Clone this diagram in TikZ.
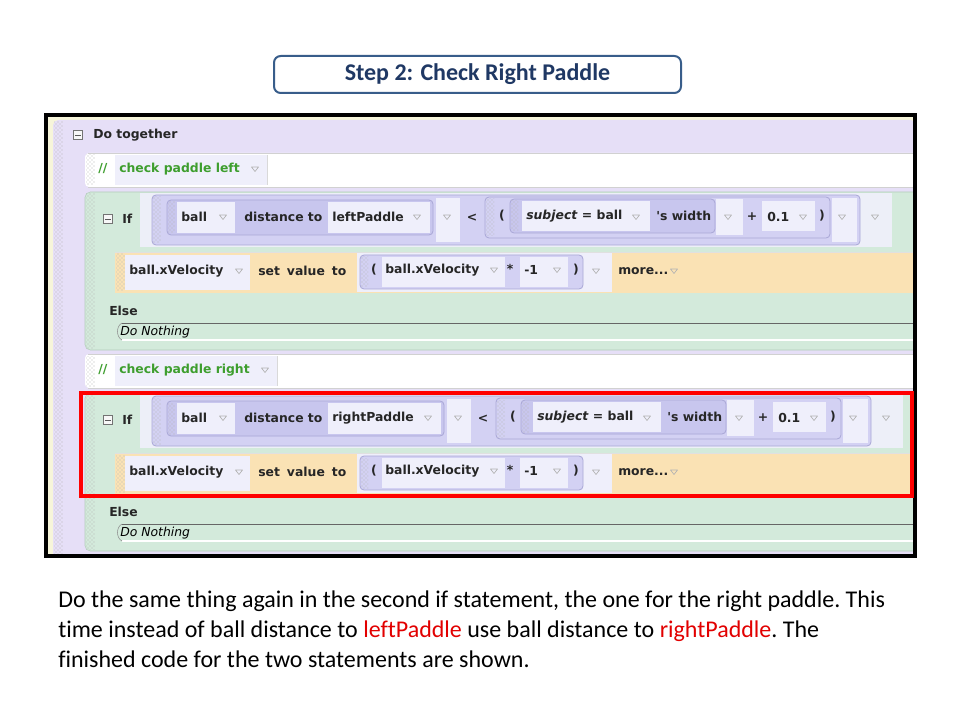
\documentclass[tikz,border=0pt]{standalone}
\usepackage{fontspec}
\setmainfont{Carlito}[Ligatures=NoCommon]
\newfontfamily\uifont{DejaVu Sans}
\usetikzlibrary{patterns}

\definecolor{titleblue}{HTML}{1F3864}
\definecolor{titleline}{HTML}{385D8A}
\definecolor{frameyel}{HTML}{F7F5DA}
\definecolor{dotlav}{HTML}{E6DFF7}
\definecolor{ifgreen}{HTML}{D3EADB}
\definecolor{ifline}{HTML}{B3CDBB}
\definecolor{condbg}{HTML}{EDEFF8}
\definecolor{exprlav}{HTML}{D3D1F3}
\definecolor{distlav}{HTML}{C8C6EE}
\definecolor{exprline}{HTML}{A9A7D6}
\definecolor{fieldbg}{HTML}{EFEFFB}
\definecolor{setorange}{HTML}{FAE2B4}
\definecolor{cmtgreen}{HTML}{3E9E2E}
\definecolor{prosered}{HTML}{E20000}

\tikzset{
  ui/.style={font=\uifont\bfseries\fontsize{9.3}{10}\selectfont, text=black!85, inner sep=0pt, anchor=west},
  gripdots/.style={pattern=crosshatch dots, pattern color=black!28},
  field/.style={fill=fieldbg},
  lavbox/.style={fill=#1, draw=exprline, line width=0.6pt, rounded corners=3pt},
  fold/.style={draw=black!55, fill=black!3, line width=0.5pt, minimum size=7pt, inner sep=0pt,
    path picture={\draw[black!65, line width=0.6pt] ([xshift=1.4pt]path picture bounding box.west) -- ([xshift=-1.4pt]path picture bounding box.east);}},
  menu/.style={draw=black!30, line width=0.5pt, line join=round},
  prose/.style={font=\frenchspacing\fontsize{18}{21}\selectfont, anchor=base west, inner sep=0pt},
}

\begin{document}
\begin{tikzpicture}[x=0.75pt,y=-0.75pt]
  \useasboundingbox[fill=white] (0,0) rectangle (960,720);

  % title
  \draw[titleline, line width=1.5pt, rounded corners=5pt] (274,56) rectangle (681,93);
  \node[font=\bfseries\fontsize{18}{20}\selectfont, text=titleblue] (title) at (477.5,74.5) {Step 2: Check Right Paddle};

  % screenshot
  \fill[frameyel] (46,115) rectangle (915,556);
  \fill[dotlav, rounded corners=4pt] (53,120) rectangle (916,562);
  \path[gripdots] (54,122) rectangle (63,556);
  \node[fold] (fold0) at (78,135) {};
  \node[ui] (dotogether) at (93,135) {Do together};

  \foreach \dy/\side/\pad/\dx/\cw [count=\s] in {0/left/leftPaddle/0/267, 201/right/rightPaddle/11/277}{
    \begin{scope}[shift={(0,\dy)}]
      % comment line
      \fill[white, rounded corners=3pt] (85,153) rectangle (920,187);
      \draw[black!18] (88,153) -- (913,153) (88,187) -- (913,187);
      \path[gripdots] (86,155) rectangle (95,185);
      \fill[field] (115,155) rectangle (\cw,185);
      \draw[black!15] (\cw,155) -- (\cw,185);
      \node[ui, text=cmtgreen] (slash\s) at (98,169) {//};
      \node[ui, text=cmtgreen] (cmt\s) at (119,169) {check paddle \side};

      % if block
      \filldraw[fill=ifgreen, draw=ifline, rounded corners=4pt] (85,192) rectangle (925,350);
      \path[gripdots] (86,194) rectangle (95,348);
      \node[fold] (fold\s) at (108,219) {};
      \node[ui] (if\s) at (122,219) {If};

      % condition
      \fill[condbg] (140,193) rectangle ({892+\dx},247);
      \path[lavbox=exprlav] (152,195) rectangle ({860+\dx},245);
      \path[gripdots] (153,197) rectangle (161,243);
      \path[lavbox=distlav] (167,200) rectangle ({433+\dx},235);
      \path[gripdots] (168,202) rectangle (175,233);
      \fill[field] (177,202) rectangle (235,233);
      \node[ui] (ball\s) at (181,217) {ball};
      \node[ui] (dist\s) at (244,217) {distance to};
      \fill[field] (328,202) rectangle ({430+\dx},233);
      \node[ui] (paddle\s) at (332,217) {\pad};
      \fill[field] ({436+\dx},198) rectangle ({460+\dx},242);

      \begin{scope}[shift={(\dx,0)}]
        \node[ui, anchor=center] (less\s) at (472,218) {<};
        \path[lavbox=exprlav] (485,197) rectangle (830,238);
        \path[gripdots] (486,199) rectangle (494,236);
        \node[ui, anchor=center] (lpar\s) at (502,216) {(};
        \path[lavbox=distlav] (510,199) rectangle (715,233);
        \path[gripdots] (511,201) rectangle (518,231);
        \fill[field] (522,201) rectangle (650,231);
        \node[ui] (subj\s) at (526,216) {\textit{subject} = ball};
        \node[ui] (width\s) at (656,216) {'s width};
        \fill[field] (716,199) rectangle (743,235);
        \node[ui, anchor=center] (plus\s) at (752,217) {+};
        \fill[field] (762,201) rectangle (815,231);
        \node[ui] (num\s) at (767,217) {0.1};
        \node[ui, anchor=center] (rpar\s) at (822,216) {)};
        \fill[field] (832,198) rectangle (857,242);
        \foreach \x in {636,728,803,842,875}
          \draw[menu] ({\x-3.5},215) -- ({\x+3.5},215) -- (\x,219.5) -- cycle;
      \end{scope}

      % set row
      \fill[setorange] (115,252) rectangle (913,293);
      \draw[black!12] (115,252) -- (913,252);
      \path[gripdots] (116,254) rectangle (125,291);
      \fill[field] (125,255) rectangle (250,290);
      \node[ui] (var\s) at (129,271) {ball.xVelocity};
      \node[ui] (set\s) at (258,271) {set\hspace{2pt} value\hspace{2pt} to};
      \fill[field] (357,253) rectangle (612,292);
      \path[lavbox=exprlav] (360,255) rectangle (583,289);
      \path[gripdots] (361,257) rectangle (368,287);
      \node[ui, anchor=center] (xlpar\s) at (374,270) {(};
      \fill[field] (382,257) rectangle (505,287);
      \node[ui] (xvar\s) at (385,270) {ball.xVelocity};
      \node[ui, anchor=center] (times\s) at (510,269) {*};
      \fill[field] (520,257) rectangle (568,287);
      \node[ui] (neg\s) at (524,270) {-1};
      \node[ui, anchor=center] (xrpar\s) at (576,270) {)};
      \node[ui] (more\s) at (618,271) {more...};

      \foreach \x/\y in {{\cw-12}/169, 223/217, {417+\dx}/217, {447+\dx}/217, 239/271, 494/270, 557/270, 596/271, 674/271}
        \draw[menu] ({\x-3.5},{\y-2}) -- ({\x+3.5},{\y-2}) -- (\x,{\y+2.5}) -- cycle;

      % else
      \node[ui] (else\s) at (109,311) {Else};
      \draw[black!60] (122,323) -- (913,323);
      \draw[white, line width=1pt] (122,340) -- (913,340);
      \draw[black!45] (122,323) .. controls (116,326) and (116,337) .. (122,340);
      \node[font=\uifont\itshape\fontsize{9.3}{10}\selectfont, anchor=west, inner sep=0pt] (nothing\s) at (120,332) {Do Nothing};
    \end{scope}
  }

  \fill[white] (917,110) rectangle (960,570);
  \fill[white] (40,558) rectangle (960,570);
  \draw[black, line width=3pt] (46,115) rectangle (915,556);
  \draw[red, line width=3pt] (80.5,393) rectangle (911.5,496);

  % prose
  \node[prose] (line1) at (58,607) {Do the same thing again in the second if statement, the one for the right paddle. This};
  \node[prose] (line2) at (58,637) {time instead of ball distance to \textcolor{prosered}{leftPaddle} use ball distance to \textcolor{prosered}{rightPaddle}. The};
  \node[prose] (line3) at (58,667) {finished code for the two statements are shown.};
\end{tikzpicture}
\end{document}
